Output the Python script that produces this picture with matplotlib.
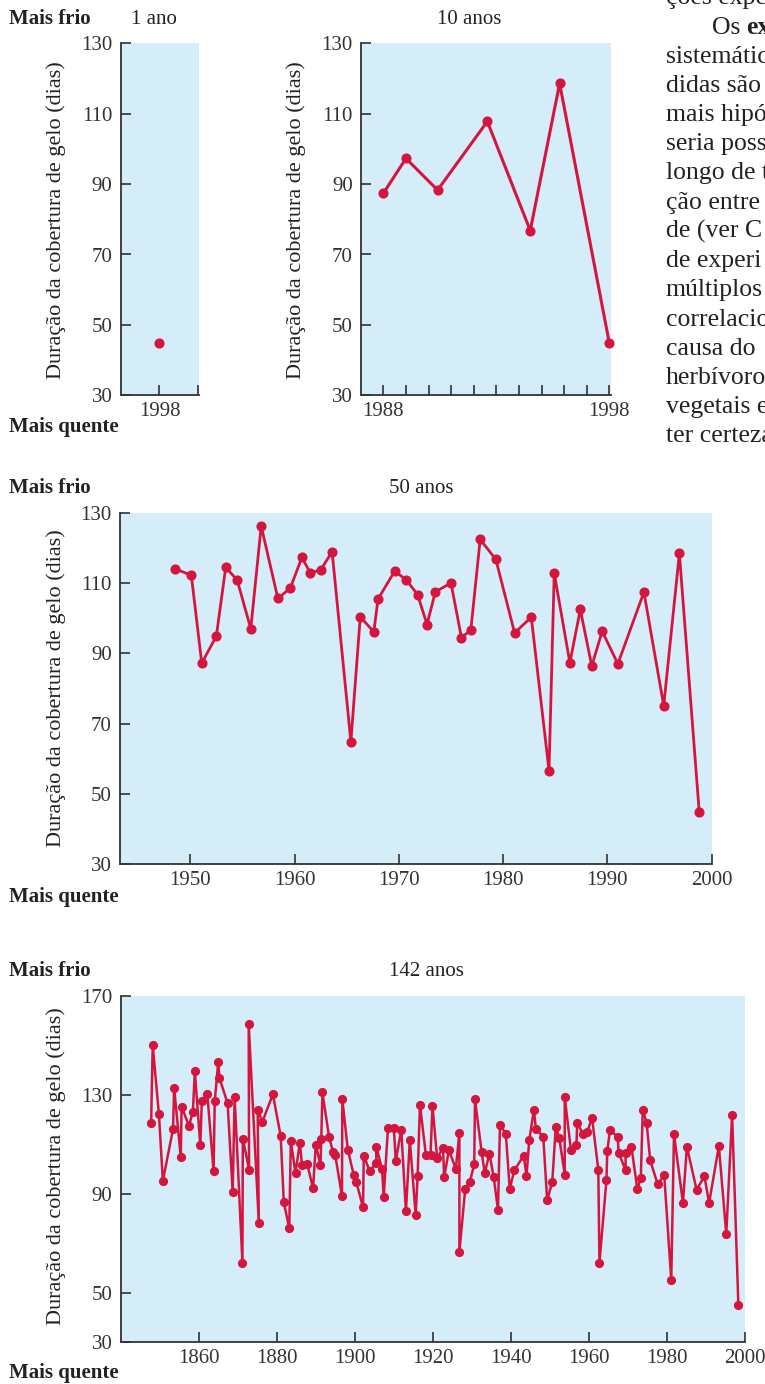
import matplotlib.pyplot as plt

plt.rcParams["font.family"] = ["Liberation Serif", "DejaVu Serif"]

# ---- data ----
years_1 = [1998]
ice_1 = [45.0]

years_10 = [1988.0, 1989.0, 1990.4, 1992.6, 1994.5, 1995.8, 1998.0]
ice_10 = [87.4, 97.3, 88.3, 107.8, 76.8, 118.6, 44.8]

years_50 = [1948.5, 1950.1, 1951.1, 1952.5, 1953.4, 1954.5, 1955.8, 1956.8, 1958.4, 1959.6,
            1960.7, 1961.5, 1962.5, 1963.6, 1965.4, 1966.3, 1967.6, 1968.0, 1969.6, 1970.7,
            1971.8, 1972.7, 1973.5, 1975.0, 1976.0, 1976.9, 1977.8, 1979.3, 1981.1, 1982.7,
            1984.4, 1984.9, 1986.4, 1987.4, 1988.5, 1989.5, 1991.0, 1993.5, 1995.4, 1996.9,
            1998.8]
ice_50 = [114.1, 112.2, 87.2, 94.9, 114.5, 110.8, 97.0, 126.2, 105.6, 108.6,
          117.3, 112.9, 113.7, 118.9, 64.8, 100.4, 96.1, 105.4, 113.4, 110.9,
          106.7, 98.2, 107.5, 110.0, 94.5, 96.6, 122.4, 116.7, 95.8, 100.3,
          56.6, 112.8, 87.3, 102.5, 86.4, 96.3, 87.0, 107.4, 75.1, 118.4,
          45.0]

years_142 = [1847.8, 1848.2, 1849.8, 1850.8, 1853.4, 1853.7, 1855.4, 1855.6, 1857.5, 1858.5,
             1859.0, 1860.4, 1860.8, 1862.2, 1863.8, 1864.1, 1865.0, 1865.3, 1867.4, 1868.7,
             1869.2, 1871.2, 1871.3, 1872.9, 1872.8, 1875.4, 1875.1, 1876.3, 1879.0, 1881.0,
             1881.8, 1883.2, 1883.6, 1884.8, 1885.9, 1886.5, 1887.8, 1889.3, 1890.0, 1891.2,
             1891.4, 1891.7, 1893.4, 1894.4, 1895.0, 1896.7, 1896.8, 1898.2, 1899.7, 1900.4,
             1902.1, 1902.3, 1903.8, 1905.5, 1905.5, 1907.0, 1907.4, 1908.5, 1910.0, 1910.5,
             1911.9, 1913.1, 1914.1, 1915.6, 1916.1, 1916.7, 1918.2, 1919.4, 1919.9, 1921.1,
             1922.6, 1922.9, 1924.1, 1925.9, 1926.8, 1926.8, 1928.3, 1929.5, 1930.6, 1930.8,
             1932.5, 1933.3, 1934.5, 1935.6, 1936.7, 1937.2, 1938.7, 1939.7, 1940.9, 1943.3,
             1944.0, 1944.7, 1945.9, 1946.4, 1948.3, 1949.3, 1950.6, 1951.5, 1952.4, 1953.8,
             1953.8, 1955.4, 1956.8, 1957.0, 1958.5, 1959.6, 1960.8, 1962.4, 1962.7, 1964.5,
             1964.7, 1965.4, 1967.4, 1967.6, 1969.4, 1969.4, 1970.9, 1972.4, 1973.3, 1973.8,
             1974.8, 1975.7, 1977.6, 1979.3, 1981.1, 1981.8, 1984.1, 1985.1, 1987.6, 1989.6,
             1990.8, 1993.3, 1995.2, 1996.7, 1998.3]
ice_142 = [118.6, 150.1, 122.2, 95.2, 116.1, 132.8, 104.8, 125.3, 117.5, 123.2,
           139.5, 109.7, 127.7, 130.4, 99.1, 127.4, 143.3, 136.9, 126.6, 90.6,
           129.3, 62.2, 112.3, 99.8, 158.6, 78.4, 124.0, 119.1, 130.3, 113.4,
           86.6, 76.1, 111.3, 98.4, 110.7, 101.5, 102.1, 92.3, 109.9, 101.6,
           112.0, 131.0, 113.1, 107.0, 105.6, 89.1, 128.3, 107.9, 97.8, 94.7,
           84.6, 105.5, 99.2, 102.6, 109.1, 99.9, 88.6, 116.7, 116.7, 103.2,
           116.0, 82.9, 111.8, 81.4, 97.2, 126.0, 105.9, 105.7, 125.6, 104.5,
           108.6, 96.7, 107.6, 100.2, 114.8, 66.6, 92.0, 95.0, 101.9, 128.2,
           107.0, 98.4, 106.3, 96.7, 83.5, 117.8, 114.4, 92.0, 99.6, 105.5,
           97.2, 111.6, 124.0, 116.4, 113.0, 87.4, 94.8, 116.9, 112.6, 97.8,
           129.1, 107.6, 109.7, 118.7, 114.1, 115.1, 120.8, 99.8, 62.2, 95.7,
           107.3, 115.8, 113.0, 106.7, 99.6, 106.7, 109.0, 92.0, 96.4, 124.0,
           118.5, 103.6, 94.0, 97.5, 55.2, 114.1, 86.3, 109.1, 91.6, 97.2,
           86.3, 109.3, 73.8, 121.9, 45.0]

ylabel = "Duração da cobertura de gelo (dias)"
body_lines = ["ções expe", None, "sistemátic", "didas são", "mais hipó", "seria poss",
              "longo de t", "ção entre", "de (ver C", "de experi", "múltiplos",
              "correlacio", "causa do", "herbívoro", "vegetais e", "ter certeza"]

RED = "#d4163f"
BLUE = "#d5ecf9"
INK = "#333333"
TXT = "#222222"

W, H = 765, 1384
fig = plt.figure(figsize=(W / 100, H / 100), dpi=100)


def add_ax(x0, y0, x1, y1):
    return fig.add_axes([x0 / W, 1 - y1 / H, (x1 - x0) / W, (y1 - y0) / H])


def style(ax, ylim, yticks):
    ax.set_facecolor(BLUE)
    for s in ["top", "right"]:
        ax.spines[s].set_visible(False)
    for s in ["left", "bottom"]:
        ax.spines[s].set_color(INK)
        ax.spines[s].set_linewidth(1.3)
    ax.set_ylim(*ylim)
    ax.set_yticks(yticks)
    ax.tick_params(direction="in", length=7, width=1.2, color=INK,
                   labelsize=15, labelcolor=INK)
    ax.tick_params(axis="y", pad=6)
    ax.tick_params(axis="x", pad=5)


def ftext(x, y, s, **kw):
    fig.text(x / W, 1 - y / H, s, **kw)


# panel 1 - 1 ano
ax1 = add_ax(120.7, 43.3, 199, 395.3)
style(ax1, (30, 130), [30, 50, 70, 90, 110, 130])
ax1.set_xlim(1997, 1999.02)
ax1.set_xticks([1998, 1999], ["1998", ""])
ax1.plot(years_1, ice_1, "o", color=RED, ms=6.3, clip_on=False)

# panel 2 - 10 anos
ax2 = add_ax(361, 43.3, 610.7, 395.3)
style(ax2, (30, 130), [30, 50, 70, 90, 110, 130])
ax2.set_xlim(1987.01, 1998.06)
ax2.set_xticks(range(1988, 1999), ["1988"] + [""] * 9 + ["1998"])
ax2.plot(years_10, ice_10, "-o", color=RED, lw=2.2, ms=6.3, clip_on=False)

# panel 3 - 50 anos
ax3 = add_ax(120, 512.7, 711.7, 864.3)
style(ax3, (30, 130), [30, 50, 70, 90, 110, 130])
ax3.set_xlim(1943.26, 2000)
ax3.set_xticks(range(1950, 2001, 10))
ax3.plot(years_50, ice_50, "-o", color=RED, lw=2.0, ms=6.3, clip_on=False)

# panel 4 - 142 anos
ax4 = add_ax(120.7, 996, 745, 1342.3)
style(ax4, (30, 170), [30, 50, 90, 130, 170])
ax4.set_xlim(1840, 2000)
ax4.set_xticks(range(1860, 2001, 20))
ax4.plot(years_142, ice_142, "-o", color=RED, lw=1.8, ms=5.6, clip_on=False)

# panel labels
bold = dict(fontsize=15, fontweight="bold", color=TXT, ha="left", va="baseline")
reg = dict(fontsize=15, color=TXT, ha="left", va="baseline")
for top, bottom in [(23.5, 432), (493.5, 902), (976.5, 1378)]:
    ftext(9, top, "Mais frio", **bold)
    ftext(9, bottom, "Mais quente", **bold)
ftext(131, 24, "1 ano", **reg)
ftext(436.7, 24, "10 anos", **reg)
ftext(389.3, 493.5, "50 anos", **reg)
ftext(389, 976.5, "142 anos", **reg)

for xc, yc in [(56, 220), (296, 220), (56, 688.5), (56, 1166)]:
    ftext(xc, yc, ylabel, fontsize=16, color=TXT, rotation=90,
          ha="center", va="center")

# fragment of the book page on the right (cut off by the page edge, as in the source)
for i, line in enumerate(body_lines):
    yb = 4.3 + i * 29.2
    if line is None:
        ftext(711.7, yb, "Os", fontsize=18.5, color=TXT, va="baseline")
        ftext(746, yb, "ex", fontsize=18.5, fontweight="bold", color=TXT, va="baseline")
    else:
        ftext(666, yb, line, fontsize=18.5, color=TXT, va="baseline")

fig.savefig("out.png", dpi=100)
